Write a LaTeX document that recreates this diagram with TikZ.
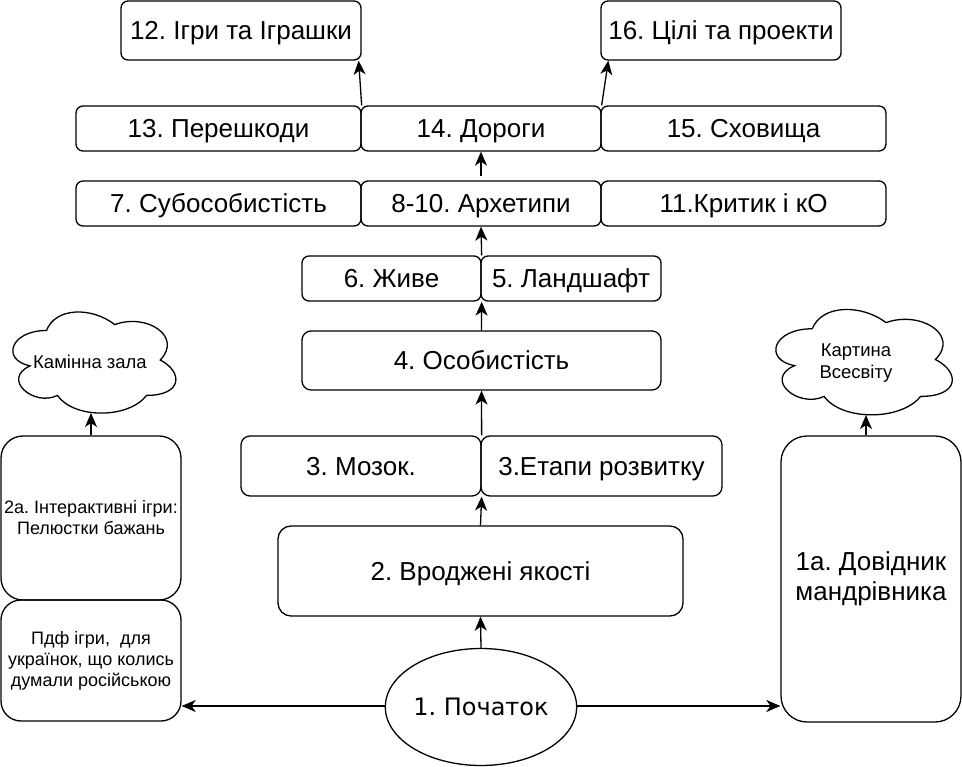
\documentclass[tikz,border=0pt]{standalone}
\usepackage{fontspec}
\setmainfont{Liberation Sans}
\newfontfamily\ellfont{DejaVu Sans}
\usetikzlibrary{arrows.meta,shapes.geometric,calc}
\frenchspacing
\newcommand\drawiocloud[4]{%
  \draw[line width=1.3pt] ({#1+0.25*#3},{#2+0.25*#4})
    .. controls ({#1+0.05*#3},{#2+0.25*#4}) and ({#1},{#2+0.5*#4}) .. ({#1+0.16*#3},{#2+0.55*#4})
    .. controls ({#1},{#2+0.66*#4}) and ({#1+0.18*#3},{#2+0.9*#4}) .. ({#1+0.31*#3},{#2+0.8*#4})
    .. controls ({#1+0.4*#3},{#2+#4}) and ({#1+0.7*#3},{#2+#4}) .. ({#1+0.8*#3},{#2+0.8*#4})
    .. controls ({#1+#3},{#2+0.8*#4}) and ({#1+#3},{#2+0.6*#4}) .. ({#1+0.875*#3},{#2+0.5*#4})
    .. controls ({#1+#3},{#2+0.3*#4}) and ({#1+0.8*#3},{#2+0.1*#4}) .. ({#1+0.625*#3},{#2+0.2*#4})
    .. controls ({#1+0.5*#3},{#2+0.05*#4}) and ({#1+0.3*#3},{#2+0.05*#4}) .. cycle;}
\tikzset{
  box/.style={draw, line width=1.3pt, rounded corners=7pt, inner sep=0pt, align=center,
    font=\fontsize{26}{30}\selectfont},
  onel/.style={text height=22pt, text depth=3.4pt},
  smallbox/.style={box, font=\fontsize{18}{21}\selectfont},
  cloudtext/.style={inner sep=0pt, align=center, font=\fontsize{18.5}{22}\selectfont},
  arr/.style={line width=1.3pt, -{Stealth[length=14pt,width=12pt,inset=4pt]}},
}
\begin{document}
\begin{tikzpicture}[x=1pt,y=-1pt]
\useasboundingbox (0,0) rectangle (962,767);
% top row
\node[box, onel, minimum width=240, minimum height=59] (n12) at (241,30.5) {12. Ігри та Іграшки};
\node[box, onel, minimum width=240, minimum height=59] (n16) at (721,30.5) {16. Цілі та проекти};
% row 13-15
\node[box, onel, minimum width=285, minimum height=45] (n13) at (218.5,128.5) {13. Перешкоди};
\node[box, onel, minimum width=240, minimum height=45] (n14) at (481,128.5) {14. Дороги};
\node[box, onel, minimum width=285, minimum height=45] (n15) at (743.5,128.5) {15. Сховища};
% row 7-11
\node[box, onel, minimum width=285, minimum height=45] (n7) at (218.5,203.5) {7. Субособистість};
\node[box, onel, minimum width=240, minimum height=45] (n8) at (481,203.5) {8-10. Архетипи};
\node[box, onel, minimum width=285, minimum height=45] (n11) at (743.5,203.5) {11.Критик і кО};
% row 6-5
\node[box, onel, minimum width=179, minimum height=45] (n6) at (391.5,278.5) {6. Живе};
\node[box, onel, minimum width=180, minimum height=45] (n5) at (571,278.5) {5. Ландшафт};
% 4
\node[box, onel, rounded corners=9pt, minimum width=359, minimum height=59] (n4) at (481.5,360.5) {4. Особистість};
% 3
\node[box, onel, rounded corners=9pt, minimum width=240, minimum height=60] (n3a) at (361,466) {3. Мозок.};
\node[box, onel, rounded corners=9pt, minimum width=241, minimum height=60] (n3b) at (601.5,466) {3.Етапи розвитку};
% 2
\node[box, onel, rounded corners=13pt, minimum width=405, minimum height=90] (n2) at (480.5,571) {2. Вроджені якості};
% 1
\node[draw, ellipse, line width=1.3pt, inner sep=0pt, minimum width=181, minimum height=117,
  text height=17pt, text depth=0pt,
  font=\ellfont\fontsize{24}{28}\selectfont] (n1) at (481,707) {1. Початок};
% left column
\node[smallbox, rounded corners=22pt, minimum width=180, minimum height=164] (n2a) at (91,518) {2a. Інтерактивні ігри:\\Пелюстки бажань};
\node[smallbox, rounded corners=20pt, minimum width=180, minimum height=121] (pdf) at (91,660.5) {Пдф ігри,\ \ для\\українок, що колись\\думали російською};
% right column
\node[box, rounded corners=26pt, minimum width=180, minimum height=286] (n1a) at (871,579) {1a. Довідник\\мандрівника};
% clouds
\drawiocloud{1}{301}{182}{118}
\node[cloudtext] (cl1) at (90,362) {Камінна зала};
\coordinate (cl1b) at (91,413);
\drawiocloud{763}{298}{197}{123}
\node[cloudtext] (cl2) at (856,363) {Картина\\Всесвіту};
\coordinate (cl2b) at (866,415);
% connectors
\draw[arr] (n1.north) -- (n2.south);
\draw[arr] (n2.north) -- (n3a.south east);
\draw[arr] (n3a.north east) -- (n4.south);
\draw[arr] (n4.north) -- (n6.south east);
\draw[arr] (n6.north east) -- (n8.south);
\draw[arr, shorten <=4pt] (n8.north) -- (n14.south);
\draw[arr] (n13.north east) -- ([xshift=-3pt]n12.south east);
\draw[arr] (n14.north east) -- ([xshift=8pt]n16.south west);
\draw[arr] (n1.west |- 0,706) -- (pdf.east |- 0,706);
\draw[arr] (n1.east |- 0,706) -- (n1a.west |- 0,706);
\draw[arr] (n2a.north -| cl1b) -- (cl1b);
\draw[arr] (n1a.north -| cl2b) -- (cl2b);
\end{tikzpicture}
\end{document}
